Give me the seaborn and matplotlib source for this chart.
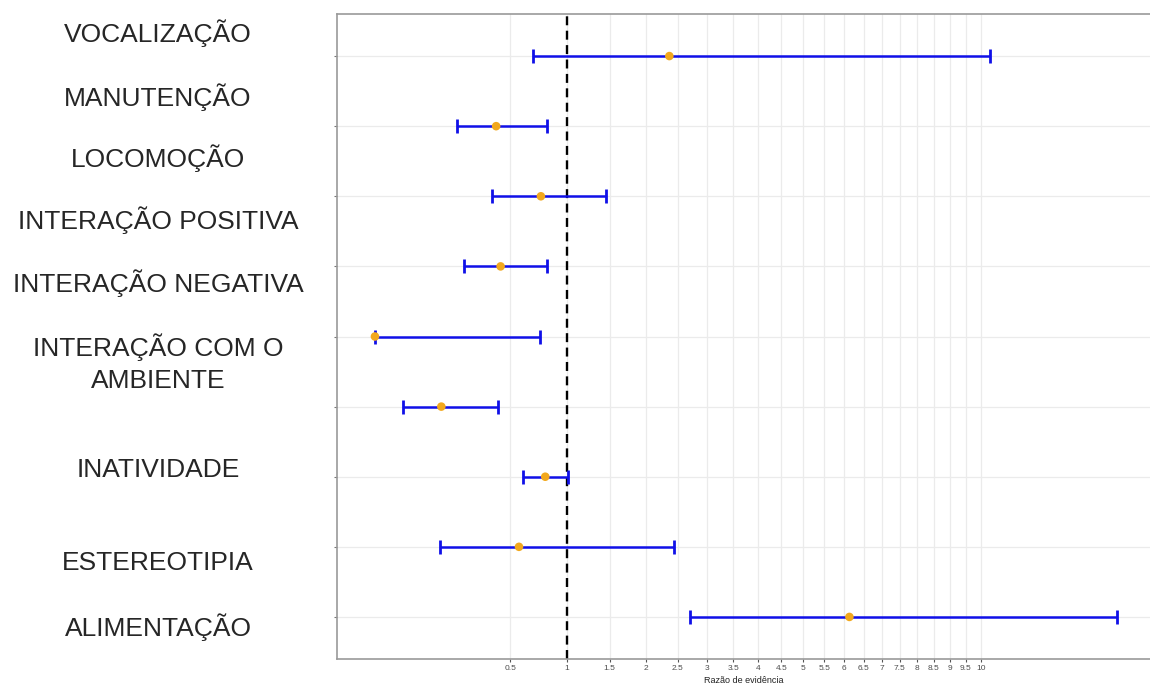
import numpy as np
import pandas as pd
import matplotlib
matplotlib.use("Agg")
import matplotlib.pyplot as plt
import seaborn as sns

# ---- data ----
row_ids = ["r1", "r2", "r3", "r4", "r5", "r6", "r7", "r8", "r9"]
estimate = [2.36, 0.40, 0.75, 0.43, 0.0, 0.12, 0.79, 0.565, 6.13]
lower = [0.68, 0.183, 0.373, 0.216, 0.0, 0.021, 0.597, 0.115, 2.71]
upper = [10.3, 0.807, 1.455, 0.807, 0.743, 0.412, 1.016, 2.44, 15.0]

tick_values = [0.5, 1, 1.5, 2, 2.5, 3, 3.5, 4, 4.5, 5, 5.5, 6, 6.5, 7, 7.5,
               8, 8.5, 9, 9.5, 10]
tick_labels = ["0.5", "1", "1.5", "2", "2.5", "3", "3.5", "4", "4.5", "5",
               "5.5", "6", "6.5", "7", "7.5", "8", "8.5", "9", "9.5", "10"]

side_labels = ["VOCALIZAÇÃO", "MANUTENÇÃO", "LOCOMOÇÃO", "INTERAÇÃO POSITIVA",
               "INTERAÇÃO NEGATIVA", "INTERAÇÃO COM O\nAMBIENTE", "INATIVIDADE",
               "ESTEREOTIPIA", "ALIMENTAÇÃO"]
# layout: vertical pixel centres of the side labels
side_label_ypix = [33, 97, 158, 220, 283, 363, 470, 563, 627]

xlabel = "Razão de evidência"

df = pd.DataFrame({"row": row_ids, "est": estimate, "lo": lower, "hi": upper})
df["ypos"] = np.arange(1, len(df) + 1)

# ---- style ----
sns.set_theme(style="white")
plt.rcParams["font.family"] = ["Liberation Sans", "DejaVu Sans"]

W, H = 1150, 689
fig = plt.figure(figsize=(W / 100, H / 100), dpi=100)
ax = fig.add_axes([337 / W, 1 - 659 / H, (1151 - 337) / W, (659 - 14) / H])


def fwd(x):
    x = np.asarray(x, dtype=float)
    return np.sign(x) * np.sqrt(np.abs(x))


def inv(y):
    y = np.asarray(y, dtype=float)
    return np.sign(y) * y ** 2


ax.set_xscale("function", functions=(fwd, inv))
ax.set_xlim(-0.0392, 16.4)
ax.set_ylim(len(df) + 0.6, 0.4)

# grid
for v in tick_values:
    ax.axvline(v, color="#EBEBEB", lw=0.9, zorder=0)
for y in df["ypos"]:
    ax.axhline(y, color="#EBEBEB", lw=0.9, zorder=0)

# reference line
ax.axvline(1, color="black", lw=1.7, dashes=(3.8, 2.3), zorder=2)

# error bars
ax.errorbar(df["est"], df["ypos"],
            xerr=[df["est"] - df["lo"], df["hi"] - df["est"]],
            fmt="none", ecolor="#1010E8", elinewidth=1.8, capsize=5.2,
            capthick=2.0, zorder=3)

sns.scatterplot(data=df, x="est", y="ypos", ax=ax, color="#F2A81D",
                s=38, edgecolor="none", zorder=4, legend=False)

ax.set_xticks(tick_values)
ax.set_xticklabels(tick_labels)
ax.xaxis.set_minor_locator(matplotlib.ticker.NullLocator())
ax.set_yticks(df["ypos"])
ax.set_yticklabels([])
ax.tick_params(axis="x", length=2.5, width=0.8, color="#555555",
               labelsize=6, labelcolor="#4D4D4D", pad=2, bottom=True)
ax.tick_params(axis="y", length=2.5, width=0.8, color="#777777", left=True)
ax.set_xlabel(xlabel, fontsize=6.5, color="#222222", labelpad=3)
ax.set_ylabel("")

for sp in ax.spines.values():
    sp.set_color("#9A9A9A")
    sp.set_linewidth(1.2)
ax.spines["right"].set_visible(False)

for lab, ypx in zip(side_labels, side_label_ypix):
    fig.text(158 / W, 1 - ypx / H, lab, ha="center", va="center",
             fontsize=19, color="#262626", linespacing=1.4)

fig.savefig("out.png", dpi=100)
